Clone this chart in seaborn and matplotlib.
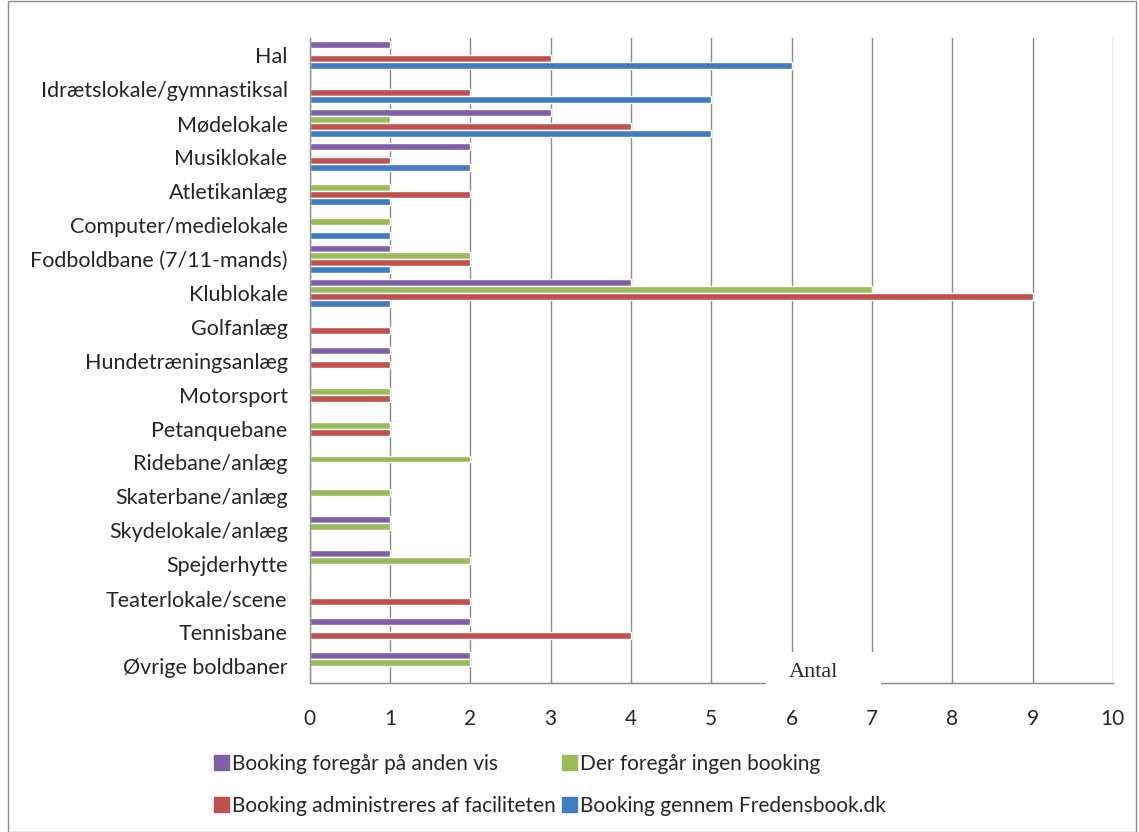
import matplotlib
matplotlib.use("Agg")
import matplotlib.pyplot as plt
import matplotlib.patches as mpatches
import seaborn as sns
import numpy as np
import pandas as pd

categories = [
    "Hal", "Idrætslokale/gymnastiksal", "Mødelokale", "Musiklokale",
    "Atletikanlæg", "Computer/medielokale", "Fodboldbane (7/11-mands)",
    "Klublokale", "Golfanlæg", "Hundetræningsanlæg", "Motorsport",
    "Petanquebane", "Ridebane/anlæg", "Skaterbane/anlæg", "Skydelokale/anlæg",
    "Spejderhytte", "Teaterlokale/scene", "Tennisbane", "Øvrige boldbaner",
]
series = [
    "Booking foregår på anden vis",
    "Der foregår ingen booking",
    "Booking administreres af faciliteten",
    "Booking gennem Fredensbook.dk",
]
anden_vis = [1, 0, 3, 2, 0, 0, 1, 4, 0, 1, 0, 0, 0, 0, 1, 1, 0, 2, 2]
ingen_booking = [0, 0, 1, 0, 1, 1, 2, 7, 0, 0, 1, 1, 2, 1, 1, 2, 0, 0, 2]
faciliteten = [3, 2, 4, 1, 2, 0, 2, 9, 1, 1, 1, 1, 0, 0, 0, 0, 2, 4, 0]
fredensbook = [6, 5, 5, 2, 1, 1, 1, 1, 0, 0, 0, 0, 0, 0, 0, 0, 0, 0, 0]
colors = ["#7F60A6", "#9BBB59", "#C0504D", "#3F7CC2"]

df = pd.DataFrame({
    "Facilitet": categories * 4,
    "Type": np.repeat(series, len(categories)),
    "Antal": anden_vis + ingen_booking + faciliteten + fredensbook,
})

sns.set_style("white")
plt.rcParams["font.family"] = ["Lato", "DejaVu Sans"]

fig = plt.figure(figsize=(11.39, 8.32), dpi=100)
ax = fig.add_axes([0.272, 0.179, 0.705, 0.775])

sns.barplot(data=df, y="Facilitet", x="Antal", hue="Type", order=categories,
            hue_order=series, palette=colors, orient="h", width=0.82,
            saturation=1, ax=ax, legend=False)

n = len(categories)
ax.set_xlim(0, 10)
ax.set_ylim(n - 0.5, -0.5)
ax.set_xticks(range(0, 11))
ax.xaxis.grid(True, color="#8c8c8c", linewidth=1)
ax.set_axisbelow(True)
for s in ["top", "right"]:
    ax.spines[s].set_visible(False)
for s in ["left", "bottom"]:
    ax.spines[s].set_color("#8c8c8c")
    ax.spines[s].set_linewidth(1)
ax.set_xlabel("")
ax.set_ylabel("")
ax.tick_params(axis="x", length=6, color="#8c8c8c", pad=13, labelsize=15)
ax.tick_params(axis="y", which="major", length=0, pad=16, labelsize=15.5)
ax.set_yticks(np.arange(-0.5, n + 0.5, 1), minor=True)
ax.tick_params(axis="y", which="minor", length=5, color="#8c8c8c")

# axis title sits on the bottom axis line, in a white box
ax.add_patch(mpatches.Rectangle((5.68, n - 1.41), 1.43, 1.18, facecolor="white",
                                edgecolor="none", zorder=9, clip_on=False))
ax.text(6.27, n - 0.82, "Antal", ha="center", va="center",
        fontsize=16, family="Liberation Serif", zorder=10, clip_on=False)

handles = [mpatches.Patch(color=c, label=l) for c, l in zip(colors, series)]
order = [0, 2, 1, 3]
fig.legend([handles[i] for i in order], [series[i] for i in order],
           loc="center", bbox_to_anchor=(0.483, 0.0565), ncol=2, frameon=False,
           fontsize=15, handlelength=0.7, handleheight=0.7, handletextpad=0.15,
           columnspacing=0.3, labelspacing=1.05)

fig.patches.append(mpatches.Rectangle((0.007, 0.0), 0.99, 0.999, transform=fig.transFigure,
                                      fill=False, edgecolor="#8c8c8c", linewidth=1))

fig.savefig("out.png", dpi=100)
